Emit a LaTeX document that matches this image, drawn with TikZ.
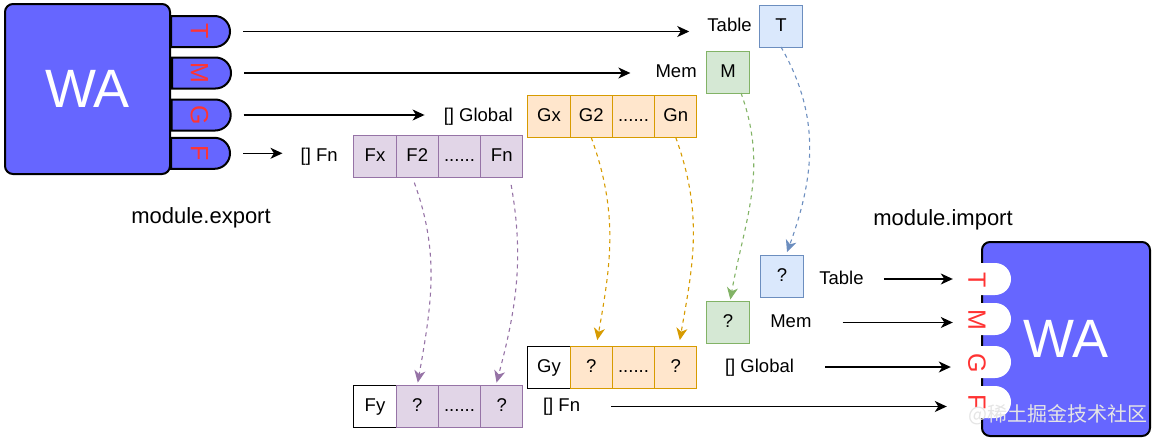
\documentclass[tikz,border=0pt]{standalone}
\usepackage{fontspec}
\setmainfont{Liberation Sans}
\newfontfamily\cjkfont{Noto Sans CJK SC}
\usepackage{graphicx}
\usepackage{xcolor}
\usetikzlibrary{shapes.misc, arrows.meta, positioning, calc}
\definecolor{wafill}{RGB}{102,102,255}
\definecolor{portred}{RGB}{255,51,51}
\definecolor{tblfill}{RGB}{218,232,252}
\definecolor{tblline}{RGB}{108,142,191}
\definecolor{memfill}{RGB}{213,232,212}
\definecolor{memline}{RGB}{130,179,102}
\definecolor{glbfill}{RGB}{255,230,204}
\definecolor{glbline}{RGB}{215,155,0}
\definecolor{fnfill}{RGB}{225,213,231}
\definecolor{fnline}{RGB}{150,115,166}
\tikzset{
    wabox/.style={rectangle, draw=black, fill=wafill, line width=2pt, rounded corners=8pt,
        text=white, font=\fontsize{54}{54}\selectfont, inner sep=0pt},
    port/.style={rounded rectangle, rounded rectangle left arc=none, draw=black, fill=wafill,
        line width=2pt, minimum width=59pt, minimum height=31pt, inner sep=0pt,
        text=portred, font=\fontsize{25}{25}\selectfont},
    slot/.style={rounded rectangle, rounded rectangle left arc=none, fill=white,
        minimum width=30pt, minimum height=32pt, inner sep=0pt},
    portlbl/.style={text=portred, font=\fontsize{25}{25}\selectfont, inner sep=0pt},
    cell/.style={rectangle, draw=black, fill=white, line width=1pt, minimum width=42.25pt,
        minimum height=42pt, inner sep=0pt, outer sep=0pt, font=\fontsize{18.5}{18.5}\selectfont,
        text height=13.5pt, text depth=3.5pt},
    tblcell/.style={cell, draw=tblline, fill=tblfill},
    memcell/.style={cell, draw=memline, fill=memfill},
    glbcell/.style={cell, draw=glbline, fill=glbfill},
    fncell/.style={cell, draw=fnline, fill=fnfill},
    lbl/.style={font=\fontsize{18.5}{18.5}\selectfont, inner sep=0pt, text height=13.5pt, text depth=3.5pt},
    modname/.style={font=\fontsize{22}{22}\selectfont, inner sep=0pt},
    arrow/.style={-{Stealth[length=12pt, width=11pt, inset=3.5pt]}, line width=1.3pt,
        shorten <=12pt, shorten >=18pt},
    into/.style={arrow, shorten <=31pt, shorten >=26pt},
    dasharrow/.style={dashed, dash pattern=on 4pt off 4pt, line width=1.1pt,
        -{Stealth[length=12pt, width=11pt, inset=3.5pt]}}
}

\begin{document}
\begin{tikzpicture}[x=1pt, y=1pt]
    \useasboundingbox (0,0) rectangle (1154,-442);

    % exporting module
    \node[port] (pT) at (199.5,-31.5) {\rotatebox{-90}{T}};
    \node[port] (pM) at (199.5,-73) {\rotatebox{-90}{M}};
    \node[port] (pG) at (199.5,-115) {\rotatebox{-90}{G}};
    \node[port] (pF) at (199.5,-153.3) {\rotatebox{-90}{F}};
    \node[wabox, minimum width=165pt, minimum height=170pt] (waexp) at (87.5,-89) {WA};
    \node[modname] (expname) at (201,-218) {module.export};

    \node[tblcell] (tbl) at (781,-26) {T};
    \node[lbl, left=8pt of tbl] (tbllbl) {Table};
    \node[memcell] (mem) at (728,-72) {M};
    \node[lbl, left=10pt of mem] (memlbl) {Mem};

    \node[glbcell] (gx) at (549,-116.5) {Gx};
    \node[glbcell, right=0pt of gx] (g2) {G2};
    \node[glbcell, right=0pt of g2] (gdots) {......};
    \node[glbcell, right=0pt of gdots] (gn) {Gn};
    \node[lbl, left=15pt of gx] (glblbl) {[] Global};

    \node[fncell] (fx) at (375,-156) {Fx};
    \node[fncell, right=0pt of fx] (f2) {F2};
    \node[fncell, right=0pt of f2] (fdots) {......};
    \node[fncell, right=0pt of fdots] (fn) {Fn};
    \node[lbl, left=16pt of fx] (fnlbl) {[] Fn};

    \draw[arrow] (pT.east) -- (pT.east -| tbllbl.west);
    \draw[arrow, shorten >=25pt] (pM.east) -- (pM.east -| memlbl.west);
    \draw[arrow, shorten >=19pt] (pG.east) -- (pG.east -| glblbl.west);
    \draw[arrow] (pF.east) -- (pF.east -| fnlbl.west);

    % importing module
    \node[wabox, minimum width=168pt, minimum height=194pt] (waimp) at (1066,-339) {WA};
    \node[slot] (sT) at (995,-279) {};
    \node[slot] (sM) at (995,-319) {};
    \node[slot] (sG) at (995,-362) {};
    \node[slot] (sF) at (995,-402) {};
    \node[portlbl] (iT) at (977,-280) {\rotatebox{-90}{T}};
    \node[portlbl] (iM) at (977,-320) {\rotatebox{-90}{M}};
    \node[portlbl] (iG) at (977,-363) {\rotatebox{-90}{G}};
    \node[portlbl] (iF) at (977,-402) {\rotatebox{-90}{F}};
    \node[modname] (impname) at (943,-220) {module.import};

    \node[tblcell] (tq) at (782,-276) {?};
    \node[lbl, right=16pt of tq, yshift=-3pt] (tqlbl) {Table};
    \node[memcell] (mq) at (728,-322.5) {?};
    \node[lbl, right=21pt of mq] (mqlbl) {Mem};

    \node[cell] (gy) at (549,-367) {Gy};
    \node[glbcell, right=0pt of gy] (gq2) {?};
    \node[glbcell, right=0pt of gq2] (gqdots) {......};
    \node[glbcell, right=0pt of gqdots] (gqn) {?};
    \node[lbl, right=28pt of gqn] (gqlbl) {[] Global};

    \node[cell] (fy) at (375,-406.5) {Fy};
    \node[fncell, right=0pt of fy] (fq2) {?};
    \node[fncell, right=0pt of fq2] (fqdots) {......};
    \node[fncell, right=0pt of fqdots] (fqn) {?};
    \node[lbl, right=20pt of fqn] (fqlbl) {[] Fn};

    \draw[into, shorten <=20pt] (tqlbl.east) -- (tqlbl.east -| sT.west);
    \draw[into] (mqlbl.east) -- (mqlbl.east -| sM.west);
    \draw[into, shorten >=28pt] (gqlbl.east) -- (gqlbl.east -| sG.west);
    \draw[into, shorten >=32pt] (fqlbl.east) -- (fqlbl.east -| sF.west);

    % copied entries
    \draw[dasharrow, tblline, shorten >=3pt] (tbl.south) to[out=-60, in=70] ([xshift=4pt]tq.north);
    \draw[dasharrow, memline, shorten >=2pt] ([xshift=13pt]mem.south) to[out=-70, in=80] ([xshift=2pt]mq.north);
    \draw[dasharrow, glbline, shorten >=6pt] (g2.south) to[out=-70, in=80] ([xshift=5pt]gq2.north);
    \draw[dasharrow, glbline, shorten >=6pt] (gn.south) to[out=-70, in=80] ([xshift=3pt]gqn.north);
    \draw[dasharrow, fnline, shorten <=6pt, shorten >=3pt] ([xshift=-5pt]f2.south) to[out=-70, in=80] (fq2.north);
    \draw[dasharrow, fnline, shorten <=8pt, shorten >=3pt] ([xshift=8pt]fn.south) to[out=-80, in=75] ([xshift=-6pt]fqn.north);

    \node[font=\cjkfont\fontsize{20}{20}\selectfont, text=white!80!gray, inner sep=0pt] (mark) at (1058,-415) {@稀土掘金技术社区};
\end{tikzpicture}
\end{document}
